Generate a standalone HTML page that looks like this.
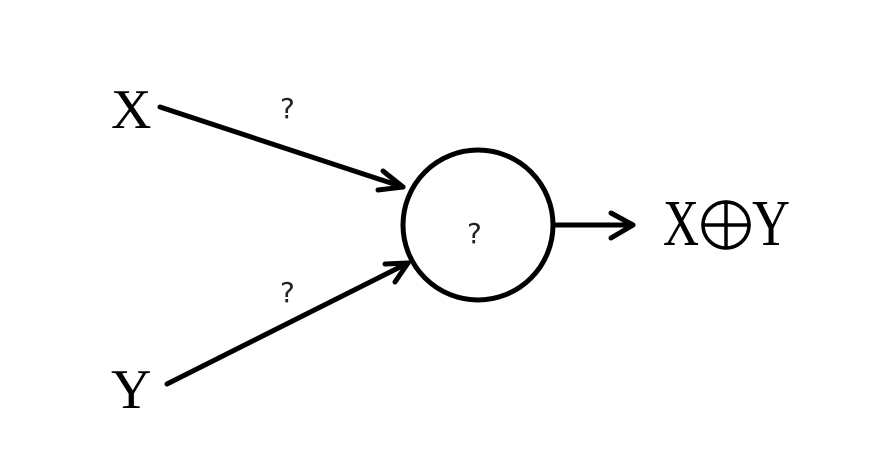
<!DOCTYPE html>
<html><head><style>html,body{margin:0;padding:0;background:#fff;}</style></head>
<body>
<svg width="892" height="462" xmlns="http://www.w3.org/2000/svg">
<rect width="892" height="462" fill="#fff"/>
<g font-family="Liberation Serif, serif" fill="#000">
<text x="111" y="128" font-size="56">X</text>
<text x="111" y="408" font-size="56">Y</text>
<text x="663" y="245" font-size="66" textLength="36" lengthAdjust="spacingAndGlyphs">X</text>
<text x="752" y="245" font-size="66" textLength="38" lengthAdjust="spacingAndGlyphs">Y</text>
</g>
<g font-family="DejaVu Sans, sans-serif" fill="#222" font-size="28">
<text x="280" y="118">?</text>
<text x="280" y="302">?</text>
<text x="467" y="243">?</text>
</g>
<g stroke="#000" stroke-width="5" fill="none" stroke-linecap="round" stroke-linejoin="round">
<circle cx="478" cy="225" r="75"/>
<line x1="160" y1="107" x2="403" y2="187"/>
<polyline points="383,171 403,187 378,190"/>
<line x1="167" y1="384" x2="408" y2="263"/>
<polyline points="385,264 408,263 395,282"/>
<line x1="555" y1="225" x2="633" y2="225"/>
<polyline points="611,213 633,225 611,238"/>
<circle cx="726" cy="225" r="23" stroke-width="3.5"/>
<line x1="726" y1="202" x2="726" y2="248" stroke-width="3.5"/>
<line x1="703" y1="225" x2="749" y2="225" stroke-width="3.5"/>
</g>
</svg>
</body></html>
